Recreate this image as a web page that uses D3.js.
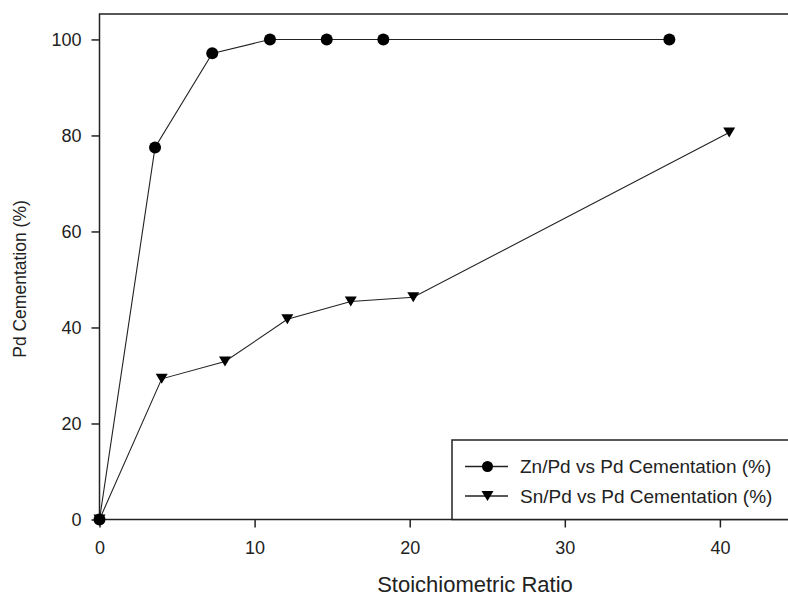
<!DOCTYPE html>
<html>
<head>
<meta charset="utf-8">
<script src="https://cdn.jsdelivr.net/npm/d3@7"></script>
<style>
  body { margin: 0; background: #fff; }
  text { font-family: "Liberation Sans", Arial, sans-serif; fill: #222; }
</style>
</head>
<body>
<div id="chart"></div>
<script>
// data
var znRatio = [0, 3.58, 7.27, 10.99, 14.65, 18.3, 36.74];
var znCement = [0, 77.5, 97.1, 100, 100, 100, 100];
var snRatio = [0, 4.01, 8.09, 12.11, 16.2, 20.23, 40.6];
var snCement = [0, 29.3, 32.9, 41.7, 45.4, 46.3, 80.6];
var xTicks = [0, 10, 20, 30, 40];
var yTicks = [0, 20, 40, 60, 80, 100];
var seriesNames = ["Zn/Pd vs Pd Cementation (%)", "Sn/Pd vs Pd Cementation (%)"];

var svgWidth = 788;
var svgHeight = 603;

var margin = { left: 99.5, top: 14, bottom: 83.5 };
var plotW = 45 * 15.51; // runs past the window on the right
var plotH = svgHeight - margin.top - margin.bottom;

var svg = d3.select("#chart")
    .append("svg")
    .attr("width", svgWidth)
    .attr("height", svgHeight);

var xScale = d3.scaleLinear().domain([0, 45]).range([margin.left, margin.left + plotW]);
var yScale = d3.scaleLinear().domain([0, 105.3]).range([svgHeight - margin.bottom, margin.top]);

// frame
svg.append("rect")
    .attr("x", xScale(0))
    .attr("y", yScale(105.3))
    .attr("width", plotW)
    .attr("height", plotH)
    .attr("fill", "none")
    .attr("stroke", "#222")
    .attr("stroke-width", 1.5);

// axes
var xAxis = d3.axisBottom(xScale).tickValues(xTicks).tickSize(8).tickPadding(14);
var yAxis = d3.axisLeft(yScale).tickValues(yTicks).tickSize(8).tickPadding(10);

var gx = svg.append("g")
    .attr("transform", "translate(0," + yScale(0) + ")")
    .call(xAxis);
var gy = svg.append("g")
    .attr("transform", "translate(" + xScale(0) + ",0)")
    .call(yAxis);

[gx, gy].forEach(function (g) {
    g.select(".domain").remove();
    g.selectAll("line").attr("stroke", "#222").attr("stroke-width", 1.5);
    g.selectAll("text").attr("font-size", "18px").style("font-family", "Liberation Sans, Arial, sans-serif").attr("fill", "#222");
});

// axis titles
svg.append("text")
    .attr("x", 475)
    .attr("y", 592)
    .attr("text-anchor", "middle")
    .attr("font-size", "22px")
    .text("Stoichiometric Ratio");

svg.append("text")
    .attr("transform", "translate(26," + 279 + ") rotate(-90)")
    .attr("text-anchor", "middle")
    .attr("font-size", "17.5px")
    .text("Pd Cementation (%)");

var line = d3.line()
    .x(d => xScale(d[0]))
    .y(d => yScale(d[1]));

var znData = znRatio.map((r, i) => [r, znCement[i]]);
var snData = snRatio.map((r, i) => [r, snCement[i]]);

var triangle = "M-6,-5L6,-5L0,5Z";

// Sn series
svg.append("path")
    .datum(snData)
    .attr("d", line)
    .attr("fill", "none")
    .attr("stroke", "#222")
    .attr("stroke-width", 1.1);

svg.selectAll(".sn")
    .data(snData)
    .enter()
    .append("path")
    .attr("class", "sn")
    .attr("d", triangle)
    .attr("transform", d => "translate(" + xScale(d[0]) + "," + yScale(d[1]) + ")")
    .attr("fill", "#000");

// Zn series
svg.append("path")
    .datum(znData)
    .attr("d", line)
    .attr("fill", "none")
    .attr("stroke", "#222")
    .attr("stroke-width", 1.1);

svg.selectAll(".zn")
    .data(znData)
    .enter()
    .append("circle")
    .attr("class", "zn")
    .attr("cx", d => xScale(d[0]))
    .attr("cy", d => yScale(d[1]))
    .attr("r", 6)
    .attr("fill", "#000");

// legend
var legend = svg.append("g");
legend.append("rect")
    .attr("x", 452)
    .attr("y", 440)
    .attr("width", 360)
    .attr("height", yScale(0) - 440)
    .attr("fill", "#fff")
    .attr("stroke", "#222")
    .attr("stroke-width", 1.5);

var rows = [466.5, 496];
seriesNames.forEach(function (name, i) {
    var y = rows[i];
    legend.append("line")
        .attr("x1", 465).attr("x2", 508)
        .attr("y1", y).attr("y2", y)
        .attr("stroke", "#222")
        .attr("stroke-width", 1.3);
    if (i === 0) {
        legend.append("circle").attr("cx", 487.5).attr("cy", y).attr("r", 5.5).attr("fill", "#000");
    } else {
        legend.append("path").attr("d", triangle).attr("transform", "translate(487.5," + y + ")").attr("fill", "#000");
    }
    legend.append("text")
        .attr("x", 520)
        .attr("y", y)
        .attr("dy", "0.35em")
        .attr("font-size", "19px")
        .text(name);
});
</script>
</body>
</html>
